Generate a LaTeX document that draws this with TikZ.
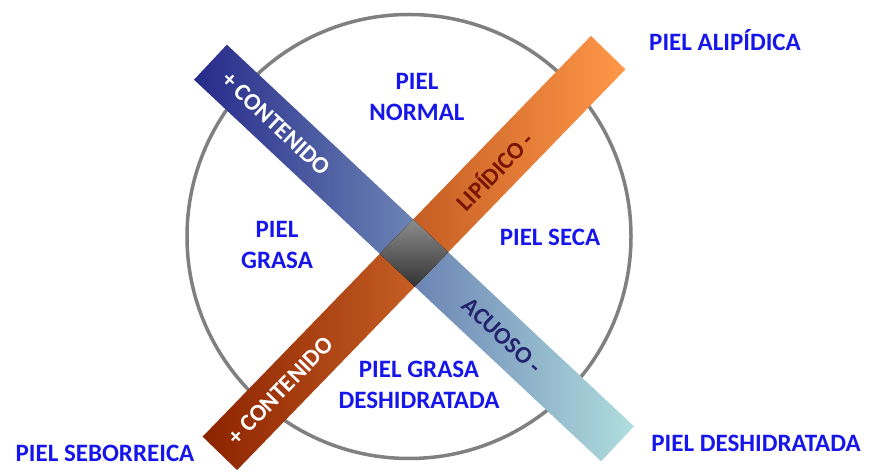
\documentclass[tikz,border=0pt]{standalone}
\usepackage{fontspec}
\setmainfont{Carlito}
\usetikzlibrary{calc}
\definecolor{navyend}{RGB}{38,42,138}
\definecolor{bluemid}{RGB}{125,150,188}
\definecolor{tealend}{RGB}{176,222,222}
\definecolor{brownend}{RGB}{140,35,0}
\definecolor{orangemid}{RGB}{225,115,45}
\definecolor{orangeend}{RGB}{255,152,72}
\definecolor{ringgray}{RGB}{128,128,128}
\definecolor{labelblue}{RGB}{22,22,235}
\definecolor{darkred}{RGB}{120,20,0}
\definecolor{darknavy}{RGB}{35,35,110}
\tikzset{
  bar/.style={minimum width=558pt, minimum height=48pt, inner sep=0pt, outer sep=0pt},
  skin/.style={text=labelblue, font=\fontsize{25}{31}\selectfont\bfseries, align=center, inner sep=0pt},
  barlabel/.style={font=\fontsize{24}{28}\selectfont\bfseries, inner sep=0pt},
}
\begin{document}
\begin{tikzpicture}[x=1pt,y=1pt]
\useasboundingbox (0,0) rectangle (874,473);
\fill[white] (0,0) rectangle (874,473);
\node[circle, draw=ringgray, line width=3.5pt, minimum size=444pt, inner sep=0pt] (ring) at (409,236.5) {};
\coordinate (c) at (414,220);
\node[bar, rotate=-43.15, left color=navyend, middle color=bluemid, right color=tealend] (bluebar) at (c) {};
\node[bar, rotate=45.9, left color=brownend, middle color=orangemid, right color=orangeend] (orangebar) at (c) {};
\fill[top color=black!45, bottom color=black!80] ($(c)+(-43.15:24)+(45.9:24)$) -- ($(c)+(-43.15:24)+(225.9:24)$) -- ($(c)+(136.85:24)+(225.9:24)$) -- ($(c)+(136.85:24)+(45.9:24)$) -- cycle;
\node[barlabel, text=white, rotate=-43.15] (blueplus) at ($(c)+(136.85:189)$) {+ CONTENIDO};
\node[barlabel, text=darknavy, rotate=-43.15] (acuoso) at ($(c)+(-43.15:121)$) {ACUOSO -};
\node[barlabel, text=white, rotate=45.9] (orangeplus) at ($(c)+(225.9:192)$) {+ CONTENIDO};
\node[barlabel, text=darkred, rotate=45.9] (lipidico) at ($(c)+(45.9:115)$) {LIPÍDICO -};
\node[skin] (normal) at (417,376) {PIEL\\NORMAL};
\node[skin] (grasa) at (277,228) {PIEL\\GRASA};
\node[skin] (seca) at (550,236) {PIEL SECA};
\node[skin] (grasades) at (419,88) {PIEL GRASA\\DESHIDRATADA};
\node[skin] (alipidica) at (725,433) {PIEL ALIPÍDICA};
\node[skin] (seborreica) at (105,20) {PIEL SEBORREICA};
\node[skin] (deshidratada) at (756,30) {PIEL DESHIDRATADA};
\end{tikzpicture}
\end{document}
